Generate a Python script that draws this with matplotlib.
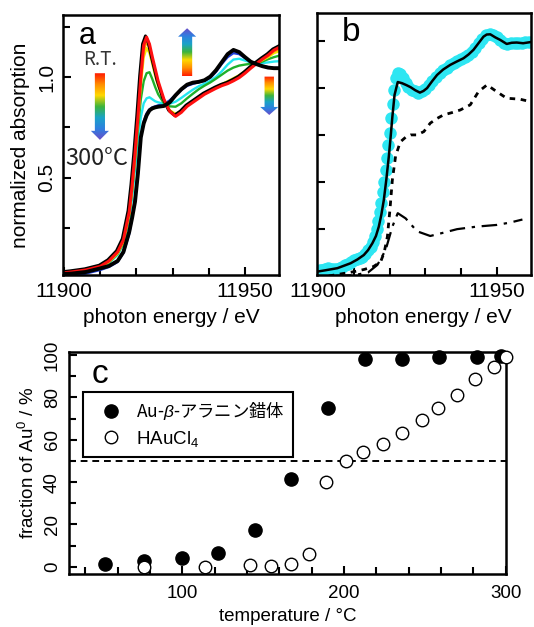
import numpy as np
import matplotlib
matplotlib.use("Agg")
import matplotlib.pyplot as plt
import matplotlib.patheffects as pe
from matplotlib.colors import LinearSegmentedColormap
from matplotlib.patches import Polygon
from matplotlib.ticker import MultipleLocator, FixedLocator

plt.rcParams["font.family"] = ["Liberation Sans", "DejaVu Sans"]
plt.rcParams["mathtext.fontset"] = "custom"
plt.rcParams["mathtext.rm"] = "Liberation Sans"
plt.rcParams["mathtext.it"] = "Liberation Sans:italic"

# ---- panel a: XANES spectra, R.T. -> 300 C ----
energy_a = [11899.5, 11902, 11906, 11910, 11912.4, 11914.8, 11916.4, 11918, 11918.8, 11919.6,
            11920.4, 11921.2, 11922, 11922.8, 11923.6, 11924.4, 11925.2, 11926, 11927.6, 11929.2,
            11930.8, 11932.4, 11934, 11935.6, 11937.2, 11938.8, 11940.4, 11942, 11943.6, 11945.2,
            11946.8, 11948.4, 11950, 11951.6, 11953.2, 11954.8, 11956.4, 11958, 11959.6]
mu_red = [0.025, 0.03, 0.04, 0.058, 0.085, 0.13, 0.19, 0.33, 0.46, 0.62,
          0.8, 1.0, 1.16, 1.2, 1.165, 1.1, 1.04, 0.98, 0.89, 0.83,
          0.805, 0.825, 0.855, 0.875, 0.895, 0.915, 0.93, 0.945, 0.958, 0.968,
          0.982, 0.998, 1.02, 1.045, 1.068, 1.09, 1.11, 1.135, 1.15]
mu_orange = [0.025, 0.03, 0.04, 0.057, 0.083, 0.127, 0.185, 0.32, 0.45, 0.61,
             0.79, 0.98, 1.13, 1.175, 1.145, 1.085, 1.025, 0.97, 0.885, 0.832,
             0.81, 0.828, 0.858, 0.878, 0.898, 0.917, 0.932, 0.947, 0.961, 0.972,
             0.988, 1.004, 1.024, 1.048, 1.069, 1.088, 1.105, 1.128, 1.14]
mu_yellow = [0.022, 0.027, 0.037, 0.055, 0.08, 0.123, 0.18, 0.315, 0.44, 0.6,
             0.78, 0.96, 1.1, 1.145, 1.12, 1.065, 1.005, 0.955, 0.88, 0.835,
             0.818, 0.833, 0.862, 0.882, 0.902, 0.92, 0.936, 0.951, 0.966, 0.98,
             0.995, 1.01, 1.03, 1.052, 1.07, 1.085, 1.1, 1.12, 1.13]
mu_green = [0.022, 0.027, 0.037, 0.054, 0.078, 0.12, 0.175, 0.305, 0.43, 0.58,
            0.74, 0.89, 0.98, 1.02, 1.025, 0.99, 0.95, 0.915, 0.87, 0.855,
            0.853, 0.87, 0.895, 0.918, 0.94, 0.958, 0.974, 0.993, 1.013, 1.033,
            1.048, 1.058, 1.063, 1.067, 1.07, 1.078, 1.09, 1.1, 1.108]
mu_cyan = [0.02, 0.025, 0.035, 0.052, 0.075, 0.115, 0.17, 0.29, 0.4, 0.54,
           0.68, 0.8, 0.87, 0.895, 0.9, 0.89, 0.88, 0.875, 0.868, 0.868,
           0.878, 0.897, 0.918, 0.938, 0.955, 0.968, 0.982, 1.002, 1.03, 1.063,
           1.088, 1.092, 1.083, 1.074, 1.07, 1.07, 1.074, 1.078, 1.08]
mu_blue = [0.005, 0.01, 0.022, 0.04, 0.055, 0.08, 0.125, 0.22, 0.3, 0.4,
           0.54, 0.7, 0.78, 0.82, 0.84, 0.85, 0.855, 0.86, 0.866, 0.885,
           0.912, 0.937, 0.957, 0.967, 0.975, 0.982, 0.997, 1.027, 1.067, 1.1,
           1.12, 1.115, 1.095, 1.077, 1.066, 1.056, 1.05, 1.046, 1.046]
mu_black = [0.02, 0.022, 0.03, 0.048, 0.06, 0.085, 0.13, 0.23, 0.3, 0.38,
            0.52, 0.7, 0.77, 0.81, 0.835, 0.845, 0.85, 0.853, 0.857, 0.875,
            0.91, 0.94, 0.963, 0.973, 0.977, 0.985, 1.003, 1.035, 1.075, 1.115,
            1.136, 1.125, 1.1, 1.077, 1.065, 1.055, 1.048, 1.045, 1.045]

# ---- panel b: spectrum + fit components ----
exp_E = [11899.6, 11900.4, 11901.2, 11902, 11902.8, 11903.6, 11904.4, 11905.2, 11906, 11906.8,
         11907.6, 11908.4, 11909.2, 11910, 11910.8, 11911.6, 11912.4, 11913.2, 11914,
         11914.7, 11915.3, 11915.9, 11916.4, 11916.9, 11917.3, 11917.7, 11918.1, 11918.5,
         11918.9, 11919.3, 11919.7, 11920.1, 11920.5, 11920.9, 11921.3, 11921.8,
         11922.4, 11923, 11923.7, 11924.5, 11925.3, 11926.2, 11927.1,
         11928, 11929, 11930, 11931, 11932, 11933, 11934, 11935, 11936, 11937, 11938,
         11939, 11940, 11941, 11942, 11943, 11944, 11945, 11946, 11947, 11948, 11949,
         11950, 11951, 11952, 11953, 11954, 11955, 11956, 11957, 11958, 11959]
exp_mu = [0.02, 0.024, 0.027, 0.03, 0.032, 0.03, 0.028, 0.03, 0.035, 0.04,
          0.045, 0.05, 0.058, 0.066, 0.072, 0.075, 0.082, 0.095, 0.11,
          0.125, 0.145, 0.17, 0.2, 0.235, 0.27, 0.31, 0.355, 0.4,
          0.45, 0.5, 0.555, 0.61, 0.67, 0.73, 0.79, 0.84,
          0.862, 0.858, 0.84, 0.82, 0.805, 0.793, 0.785,
          0.78, 0.785, 0.797, 0.812, 0.83, 0.848, 0.862, 0.875, 0.886, 0.896, 0.905,
          0.913, 0.921, 0.93, 0.94, 0.953, 0.968, 0.99, 1.01, 1.025, 1.03, 1.025,
          1.015, 1.003, 0.992, 0.986, 0.99, 0.992, 0.99, 0.992, 0.994, 0.997]
fit_E = [11899.6, 11902, 11905.4, 11909.1, 11911, 11912.8, 11914, 11915.2, 11916.2, 11917,
         11917.7, 11918.4, 11919.1, 11919.8, 11920.3, 11920.8, 11921.4, 11922.3, 11923.5,
         11924.7, 11925.9, 11927.2, 11928.5, 11929.5, 11930.5, 11931.9, 11933.3, 11935,
         11937, 11938.8, 11940.7, 11942.1, 11943.5, 11944.9, 11946.3, 11947.2, 11948.2,
         11949.6, 11951, 11952.8, 11954.2, 11955.6, 11957.4, 11959.5]
fit_mu = [0.018, 0.024, 0.033, 0.054, 0.07, 0.089, 0.11, 0.139, 0.17, 0.21,
          0.26, 0.323, 0.41, 0.508, 0.59, 0.678, 0.77, 0.825, 0.82,
          0.812, 0.803, 0.79, 0.78, 0.787, 0.799, 0.828, 0.855, 0.878,
          0.898, 0.912, 0.926, 0.942, 0.962, 0.99, 1.018, 1.027, 1.028,
          1.015, 1.004, 0.987, 0.992, 0.993, 0.99, 0.995]
au0_E = [11903, 11905, 11910, 11913, 11915.5, 11917.5, 11918.5, 11919.4, 11920.1, 11920.8,
         11921.7, 11923, 11924.5, 11925.9, 11927.7, 11929.6, 11931.4, 11933.3, 11935.1,
         11937.5, 11939.8, 11942.6, 11944.9, 11947.3, 11950, 11952.8, 11956.5, 11959.3]
au0_mu = [0.0, 0.005, 0.018, 0.028, 0.04, 0.06, 0.1, 0.167, 0.28, 0.41,
          0.51, 0.57, 0.59, 0.6, 0.6, 0.614, 0.65, 0.67, 0.685,
          0.695, 0.706, 0.728, 0.784, 0.813, 0.784, 0.756, 0.752, 0.742]
au3_E = [11905, 11910, 11914, 11916.6, 11918.9, 11920.8, 11922.3, 11924.5, 11927.7,
         11931.4, 11935.1, 11938.9, 11944.5, 11950, 11953.7, 11957.2]
au3_mu = [0.0, 0.003, 0.015, 0.047, 0.11, 0.21, 0.267, 0.245, 0.19,
          0.17, 0.184, 0.199, 0.21, 0.217, 0.227, 0.24]

# ---- panel c: fraction of Au0 vs temperature ----
temp_ala = [52, 76, 100, 122, 145, 167, 190, 213, 236, 259, 282, 297]
frac_ala = [1.2, 2.8, 4.2, 6.3, 17.5, 41.3, 74.8, 98.4, 98.4, 99.0, 99.0, 99.8]
temp_hau = [76, 114, 142, 155, 167, 178, 189, 201, 212, 224, 236, 248, 258, 270, 281, 293, 300]
frac_hau = [-0.3, -0.2, 0.8, 0.3, 1.5, 6.2, 40, 50, 54, 58, 63, 69.3, 75, 81.3, 88.5, 94.5, 99.3]

arrow_cmap = LinearSegmentedColormap.from_list(
    "rt300", ["#ff1a00", "#ff8c00", "#ffd800", "#3cb43c", "#1aa3c8", "#2f7fe0", "#6a4cc8"])


def grad_arrow(ax, xc, y_tail, y_tip, body_w, head_w, head_len):
    d = np.sign(y_tip - y_tail)
    yb = y_tip - d * head_len
    verts = [(xc - body_w / 2, y_tail), (xc + body_w / 2, y_tail), (xc + body_w / 2, yb),
             (xc + head_w / 2, yb), (xc, y_tip), (xc - head_w / 2, yb), (xc - body_w / 2, yb)]
    poly = Polygon(verts, closed=True, facecolor="none", edgecolor="none")
    ax.add_patch(poly)
    g = np.linspace(0, 1, 256).reshape(-1, 1)
    if d > 0:
        g = g[::-1]
    im = ax.imshow(g, cmap=arrow_cmap, aspect="auto", origin="upper", zorder=1,
                   extent=[xc - head_w / 2, xc + head_w / 2, min(y_tail, y_tip), max(y_tail, y_tip)])
    im.set_clip_path(poly)


def style(ax, lw=1.8):
    for s in ax.spines.values():
        s.set_linewidth(lw)
    ax.tick_params(which="both", direction="in", width=1.5, top=False, right=False)
    ax.tick_params(which="major", length=6)
    ax.tick_params(which="minor", length=5)


fig = plt.figure(figsize=(5.34, 6.27), dpi=100)

# panel a
ax1 = fig.add_axes([0.118, 0.5614, 0.4045, 0.4147])
ax1.plot(energy_a, mu_blue, color="#1f3fd8", lw=1.7)
ax1.plot(energy_a, mu_cyan, color="#22e6f0", lw=1.7)
ax1.plot(energy_a, mu_green, color="#1fb02a", lw=1.7)
ax1.plot(energy_a, mu_yellow, color="#f5e600", lw=1.7)
ax1.plot(energy_a, mu_orange, color="#ff9a00", lw=1.5)
ax1.plot(energy_a, mu_red, color="#ff1010", lw=2.2,
         path_effects=[pe.SimpleLineShadow(offset=(-0.8, 0.8), shadow_color="k", alpha=1.0, rho=1),
                       pe.Normal()])
ax1.plot(energy_a, mu_black, color="black", lw=2.8)
grad_arrow(ax1, 11909.9, 1.02, 0.688, 2.8, 5.0, 0.045)
grad_arrow(ax1, 11934.0, 1.006, 1.244, 2.8, 5.0, 0.042)
grad_arrow(ax1, 11956.7, 1.003, 0.812, 2.6, 5.0, 0.04)
ax1.set_xlim(11899.7, 11959.4)
ax1.set_ylim(0.015, 1.31)
ax1.xaxis.set_major_locator(FixedLocator([11900, 11950]))
ax1.xaxis.set_minor_locator(MultipleLocator(10))
ax1.yaxis.set_major_locator(FixedLocator([0.5, 1.0]))
ax1.yaxis.set_minor_locator(FixedLocator([0.25, 0.75, 1.25]))
ax1.set_yticklabels(["0.5", "1.0"], rotation=90, va="center")
style(ax1)
ax1.tick_params(axis="both", labelsize=15, pad=5)
ax1.set_xlabel("photon energy / eV", fontsize=15, labelpad=5)
ax1.set_ylabel("normalized absorption", fontsize=15, labelpad=5)
ax1.text(0.113, 0.92, "a", transform=ax1.transAxes, fontsize=22, ha="center", va="center")
ax1.text(0.171, 0.827, "R.T.", transform=ax1.transAxes, fontsize=13.5, color="#333333",
         ha="center", va="center", family=["Noto Sans CJK JP", "DejaVu Sans"])
ax1.text(0.156, 0.449, "300°C", transform=ax1.transAxes, fontsize=17, color="#222222",
         ha="center", va="center", family=["Noto Sans CJK JP", "DejaVu Sans"])

# panel b
ax2 = fig.add_axes([0.593, 0.5614, 0.4007, 0.418])
ax2.plot(exp_E, exp_mu, "o", color="#2ee6f2", ms=9, mec="none")
ax2.plot(fit_E, fit_mu, color="black", lw=1.8)
ax2.plot(au0_E, au0_mu, color="black", lw=2.0, ls=(0, (2, 2)))
ax2.plot(au3_E, au3_mu, color="black", lw=1.6, ls=(0, (7, 3, 1.5, 3)))
ax2.set_xlim(11899.6, 11959.5)
ax2.set_ylim(0.004, 1.119)
ax2.xaxis.set_major_locator(FixedLocator([11900, 11950]))
ax2.xaxis.set_minor_locator(MultipleLocator(10))
ax2.yaxis.set_major_locator(MultipleLocator(0.2))
ax2.set_yticklabels([])
style(ax2)
ax2.tick_params(axis="both", labelsize=15, pad=5)
ax2.set_xlabel("photon energy / eV", fontsize=15, labelpad=5)
ax2.text(0.163, 0.925, "b", transform=ax2.transAxes, fontsize=24, ha="center", va="center")

# panel c
ax3 = fig.add_axes([0.1298, 0.0840, 0.8172, 0.355])
ax3.axhline(50, color="black", lw=1.4, ls=(0, (3.5, 2.5)))
ax3.plot(temp_ala, frac_ala, "o", color="black", ms=9.5, clip_on=False, zorder=3,
         label="Au-$\\beta$-アラニン錯体")
ax3.plot(temp_hau, frac_hau, "o", mfc="white", mec="black", mew=1.0, ms=9, clip_on=False,
         zorder=3, label="HAuCl$_4$")
ax3.set_xlim(30, 300)
ax3.set_ylim(-3.6, 101.6)
ax3.xaxis.set_major_locator(FixedLocator([100, 200, 300]))
ax3.xaxis.set_minor_locator(MultipleLocator(20))
ax3.yaxis.set_major_locator(MultipleLocator(20))
ax3.yaxis.set_minor_locator(MultipleLocator(10))
style(ax3)
ax3.tick_params(axis="both", labelsize=13.5, pad=8)
ax3.tick_params(axis="y", labelrotation=90, pad=6)
for t in ax3.get_yticklabels():
    t.set_va("center")
ax3.set_xlabel("temperature / °C", fontsize=13.5, labelpad=4)
ax3.set_ylabel("fraction of Au$^{0}$ / %", fontsize=13.5, labelpad=4)
ax3.text(0.07, 0.9, "c", transform=ax3.transAxes, fontsize=24, ha="center", va="center")
leg = ax3.legend(loc="upper left", bbox_to_anchor=(0.031, 0.82), borderaxespad=0,
                 fontsize=12.5, frameon=True, fancybox=False, framealpha=1, handlelength=2.2,
                 handletextpad=0.35, borderpad=0.5, labelspacing=0.35)
leg.get_frame().set_edgecolor("black")
leg.get_frame().set_linewidth(1.5)
leg.get_texts()[0].set_fontfamily("Noto Sans CJK JP")
leg.get_texts()[1].set_fontsize(13.5)

fig.savefig("out.png", dpi=100)
